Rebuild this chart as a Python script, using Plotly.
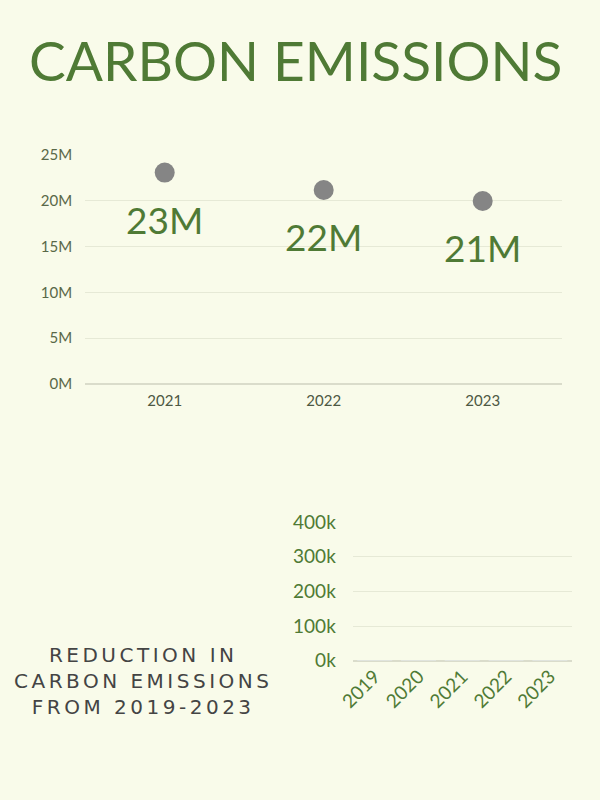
import plotly.graph_objects as go

# top chart: yearly emissions (millions)
years = ["2021", "2022", "2023"]
emissions = [23.1, 21.2, 20.0]
emission_labels = ["23M", "22M", "21M"]

# bottom chart: reduction per year (thousands) - bars not drawn yet in the picture
reduction_years = ["2019", "2020", "2021", "2022", "2023"]
reduction = [0, 0, 0, 0, 0]

GREEN = "#4f7a35"
BG = "#f9fbea"
GRID = "#e6e9d6"
FONT = "Lato"

fig = go.Figure()

fig.add_trace(
    go.Scatter(
        x=years,
        y=emissions,
        mode="markers",
        marker=dict(size=20, color="#858585"),
        xaxis="x",
        yaxis="y",
        hoverinfo="skip",
    )
)

fig.add_trace(
    go.Bar(
        x=reduction_years,
        y=reduction,
        marker=dict(color=GREEN),
        xaxis="x2",
        yaxis="y2",
    )
)

# big value labels under each marker (category index on the x axis)
annotations = [
    dict(
        x=i,
        y=val,
        xref="x",
        yref="y",
        text=lbl,
        showarrow=False,
        yshift=-47,
        font=dict(family=FONT, size=37, color=GREEN),
    )
    for i, (val, lbl) in enumerate(zip(emissions, emission_labels))
]

annotations.append(
    dict(
        x=0.4925,
        y=0.925,
        xref="paper",
        yref="paper",
        text="CARBON EMISSIONS",
        showarrow=False,
        xanchor="center",
        yanchor="middle",
        font=dict(family=FONT, size=55, color=GREEN),
    )
)

# subtitle, spaced out letters
annotations.append(
    dict(
        x=0.238,
        y=0.149,
        xref="paper",
        yref="paper",
        text='<span style="letter-spacing:3.5px">REDUCTION IN<br>CARBON EMISSIONS<br>FROM 2019-2023</span>',
        showarrow=False,
        xanchor="center",
        yanchor="middle",
        align="center",
        font=dict(family="DejaVu Sans", size=20, color="#444444"),
    )
)

fig.update_layout(
    width=600,
    height=800,
    margin=dict(l=0, r=0, t=0, b=0, pad=0),
    paper_bgcolor=BG,
    plot_bgcolor=BG,
    showlegend=False,
    annotations=annotations,
    xaxis=dict(
        type="category",
        range=[-0.5, 2.5],
        domain=[0.142, 0.937],
        anchor="y",
        automargin=False,
        showgrid=False,
        zeroline=False,
        showline=False,
        tickfont=dict(family=FONT, size=15, color="#4d5843"),
        ticklabelstandoff=6,
    ),
    yaxis=dict(
        domain=[0.52, 0.806],
        anchor="x",
        automargin=False,
        range=[0, 25],
        dtick=5,
        ticksuffix="M",
        gridcolor=GRID,
        zeroline=True,
        zerolinecolor="#dadccb",
        showline=False,
        tickfont=dict(family=FONT, size=15, color="#5a6848"),
        ticklabelstandoff=12,
    ),
    xaxis2=dict(
        type="category",
        range=[-0.5, 4.5],
        domain=[0.588, 0.953],
        anchor="y2",
        automargin=False,
        showgrid=False,
        zeroline=False,
        showline=False,
        tickangle=-45,
        tickfont=dict(family=FONT, size=19, color=GREEN),
    ),
    yaxis2=dict(
        domain=[0.174, 0.3475],
        anchor="x2",
        automargin=False,
        range=[0, 400],
        dtick=100,
        ticksuffix="k",
        gridcolor=GRID,
        zeroline=True,
        zerolinecolor="#dadccb",
        showline=False,
        tickfont=dict(family=FONT, size=19, color=GREEN),
        ticklabelstandoff=16,
    ),
)

fig.write_html(
    "out.html",
    config={"displayModeBar": False},
    post_script="document.body.style.margin='0';",
)
